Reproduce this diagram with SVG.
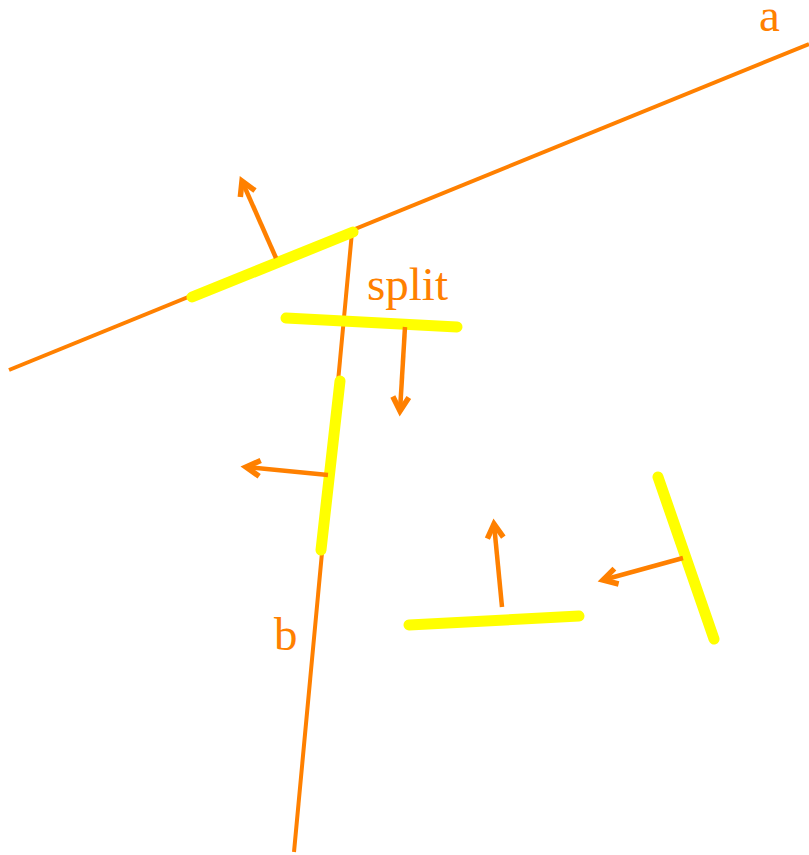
<svg xmlns="http://www.w3.org/2000/svg" width="809" height="855" viewBox="0 0 809 855">
<style>
.ln{stroke:#ff8000;stroke-width:4;fill:none}
.seg{stroke:#ffff00;stroke-width:11;stroke-linecap:round;fill:none}
.ar{stroke:#ff8000;stroke-width:4.5;fill:none;marker-end:url(#ah)}
.lbl{font-family:"Liberation Serif",serif;font-size:47px;fill:#ff8000}
</style>
<defs>
<marker id="ah" markerUnits="userSpaceOnUse" markerWidth="24" markerHeight="24" refX="16" refY="10" orient="auto" viewBox="0 0 24 20">
<polyline points="2,2 16,10 2,18" fill="none" stroke="#ff8000" stroke-width="5.5"/>
</marker>
</defs>
<rect width="809" height="855" fill="#ffffff"/>
<g id="connectors">
<line class="ln" x1="9" y1="370" x2="809" y2="44"/>
<line class="ln" x1="352" y1="232" x2="294" y2="852"/>
</g>
<g id="seg-a"><line class="seg" x1="192" y1="297" x2="353" y2="232"/><line class="ar" x1="276" y1="258" x2="242" y2="181"/></g>
<g id="seg-split"><line class="seg" x1="286" y1="318" x2="457" y2="327"/><line class="ar" x1="405" y1="327" x2="400" y2="411"/></g>
<g id="seg-b"><line class="seg" x1="340" y1="381" x2="321" y2="550"/><line class="ar" x1="328" y1="475" x2="246" y2="467"/></g>
<g id="seg-bottom"><line class="seg" x1="409" y1="625" x2="579" y2="616"/><line class="ar" x1="502" y1="607" x2="494" y2="524"/></g>
<g id="seg-right"><line class="seg" x1="658" y1="477" x2="714" y2="639"/><line class="ar" x1="683" y1="558" x2="603" y2="580"/></g>
<text class="lbl" x="759" y="31">a</text>
<text class="lbl" x="367" y="300">split</text>
<text class="lbl" x="274" y="650">b</text>
</svg>
